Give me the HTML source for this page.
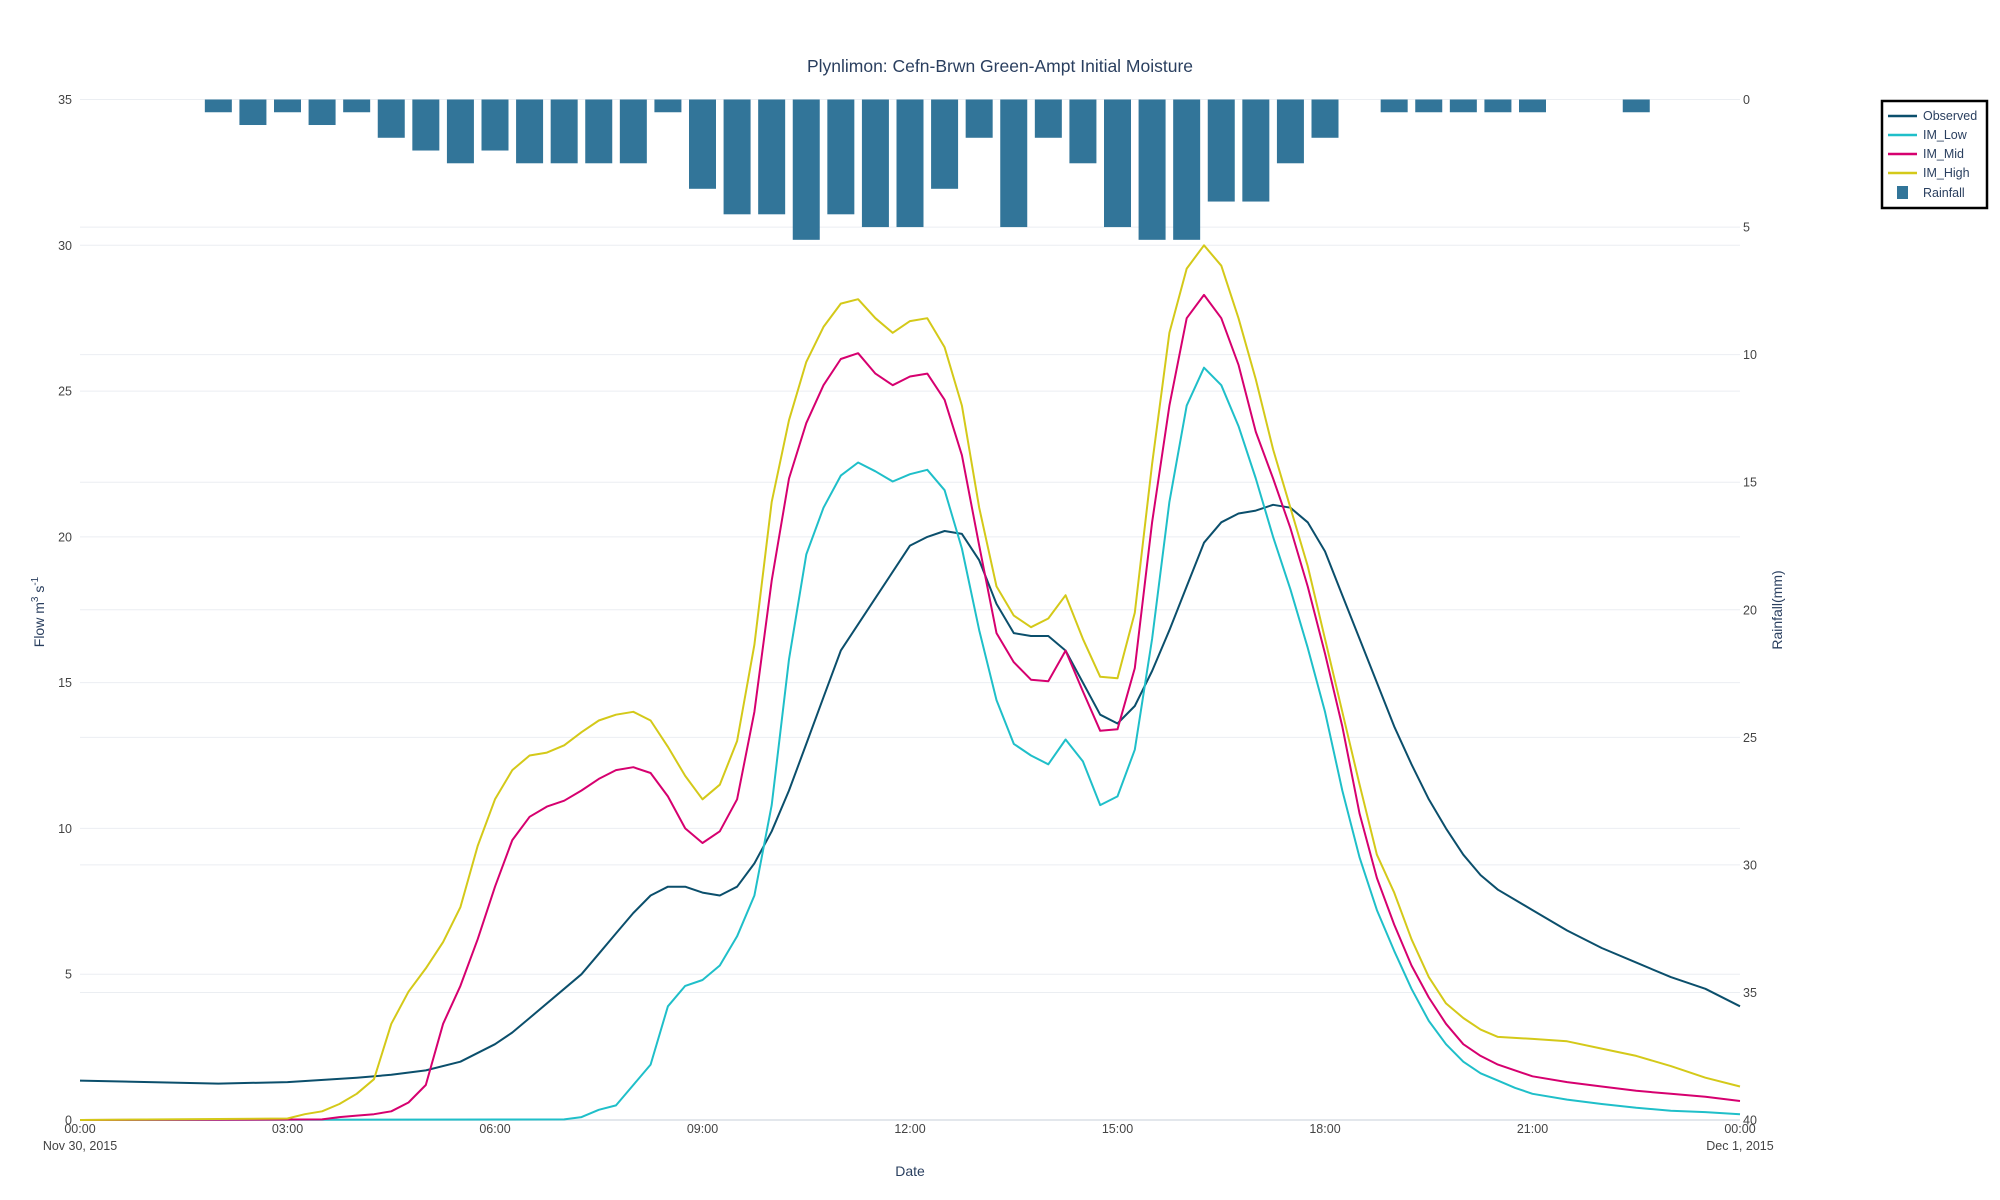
<!DOCTYPE html>
<html><head><meta charset="utf-8"><style>
body{margin:0;background:#fff;}
svg{display:block;font-family:"Liberation Sans",Arial,sans-serif;}
</style></head><body>
<svg id="s" width="2000" height="1200" xmlns="http://www.w3.org/2000/svg">
<g id="grid"></g>
<g id="bars"></g>
<g id="lines"></g>
<g id="labels" font-size="12.5" fill="#444"></g>
<text x="1000" y="72" text-anchor="middle" font-size="17.5" fill="#2a3f5f">Plynlimon: Cefn-Brwn Green-Ampt Initial Moisture</text>
<text x="910" y="1176" text-anchor="middle" font-size="14" fill="#2a3f5f">Date</text>
<text transform="translate(44,612) rotate(-90)" text-anchor="middle" font-size="14" fill="#2a3f5f">Flow m<tspan dy="-6" font-size="10">3</tspan><tspan dy="6"> s</tspan><tspan dy="-6" font-size="10">-1</tspan></text>
<text transform="translate(1782,610) rotate(-90)" text-anchor="middle" font-size="14" fill="#2a3f5f">Rainfall(mm)</text>
<g>
<rect x="1882" y="101" width="105" height="107" fill="#fff" stroke="#000" stroke-width="2.5"/>
<g font-size="12.5" fill="#2a3f5f">
<line x1="1888" y1="116" x2="1917" y2="116" stroke="#0b4f6c" stroke-width="2.5"/><text x="1923" y="120">Observed</text>
<line x1="1888" y1="135" x2="1917" y2="135" stroke="#1fbfc9" stroke-width="2.5"/><text x="1923" y="139">IM_Low</text>
<line x1="1888" y1="154" x2="1917" y2="154" stroke="#d6006f" stroke-width="2.5"/><text x="1923" y="158">IM_Mid</text>
<line x1="1888" y1="173" x2="1917" y2="173" stroke="#d4c919" stroke-width="2.5"/><text x="1923" y="177">IM_High</text>
<rect x="1897" y="186" width="11" height="13" fill="#327599"/><text x="1923" y="197">Rainfall</text>
</g></g>
</svg>
<script>
var NS="http://www.w3.org/2000/svg";
function el(p,t,a,txt){var e=document.createElementNS(NS,t);for(var k in a)e.setAttribute(k,a[k]);if(txt!==undefined)e.textContent=txt;document.getElementById(p).appendChild(e);return e;}
var X0=80,X1=1740,HW=(X1-X0)/24;
var Y0=1120,YT=99.5,UY=(Y0-YT)/35,UR=(Y0-YT)/40;
function X(h){return X0+h*HW;}
function Y(v){return Y0-v*UY;}
// grid
for(var v=0;v<=35;v+=5){el("grid","line",{x1:X0,x2:X1,y1:Y(v),y2:Y(v),stroke:"#ebeef2","stroke-width":1});
 el("labels","text",{x:72,y:Y(v)+4.5,"text-anchor":"end"},String(v));}
for(var r=0;r<=40;r+=5){var y=YT+r*UR;el("grid","line",{x1:X0,x2:X1,y1:y,y2:y,stroke:"#ebeef2","stroke-width":1});
 el("labels","text",{x:1743,y:y+4.5},String(r));}
el("grid","line",{x1:X0,x2:X1,y1:Y0,y2:Y0,stroke:"#e3e7ec","stroke-width":2});
var xt=["00:00","03:00","06:00","09:00","12:00","15:00","18:00","21:00","00:00"];
for(var i=0;i<9;i++)el("labels","text",{x:X(i*3),y:1133,"text-anchor":"middle"},xt[i]);
el("labels","text",{x:X(0),y:1150,"text-anchor":"middle"},"Nov 30, 2015");
el("labels","text",{x:X(24),y:1150,"text-anchor":"middle"},"Dec 1, 2015");
// bars
var rain={2:.5,2.5:1,3:.5,3.5:1,4:.5,4.5:1.5,5:2,5.5:2.5,6:2,6.5:2.5,7:2.5,7.5:2.5,8:2.5,8.5:.5,9:3.5,9.5:4.5,10:4.5,10.5:5.5,11:4.5,11.5:5,12:5,12.5:3.5,13:1.5,13.5:5,14:1.5,14.5:2.5,15:5,15.5:5.5,16:5.5,16.5:4,17:4,17.5:2.5,18:1.5,19:.5,19.5:.5,20:.5,20.5:.5,21:.5,22.5:.5};
for(var h in rain){var c=X(parseFloat(h));el("bars","rect",{x:c-13.5,y:YT,width:27,height:rain[h]*UR,fill:"#327599"});}
function line(d,col){var p=[];for(var i=0;i<d.length;i+=2)p.push(X(d[i]).toFixed(1)+","+Y(d[i+1]).toFixed(1));
 el("lines","polyline",{points:p.join(" "),fill:"none",stroke:col,"stroke-width":2,"stroke-linejoin":"round"});}
var obs=[0,1.35,2,1.25,3,1.3,4,1.45,4.5,1.55,5,1.7,5.5,2.0,6,2.6,6.25,3.0,6.5,3.5,7,4.5,7.25,5.0,7.5,5.7,7.75,6.4,8,7.1,8.25,7.7,8.5,8.0,8.75,8.0,9,7.8,9.25,7.7,9.5,8.0,9.75,8.8,10,9.9,10.25,11.3,10.5,12.9,10.75,14.5,11,16.1,11.25,17.0,11.5,17.9,11.75,18.8,12,19.7,12.25,20.0,12.5,20.2,12.75,20.1,13,19.2,13.25,17.7,13.5,16.7,13.75,16.6,14,16.6,14.25,16.1,14.5,15.0,14.75,13.9,15,13.6,15.25,14.2,15.5,15.4,15.75,16.8,16,18.3,16.25,19.8,16.5,20.5,16.75,20.8,17,20.9,17.25,21.1,17.5,21.0,17.75,20.5,18,19.5,18.25,18.0,18.5,16.5,18.75,15.0,19,13.5,19.25,12.2,19.5,11.0,19.75,10.0,20,9.1,20.25,8.4,20.5,7.9,21,7.2,21.5,6.5,22,5.9,22.5,5.4,23,4.9,23.5,4.5,24,3.9];
var hi=[0,0,3,0.05,3.25,0.2,3.5,0.3,3.75,0.55,4,0.9,4.25,1.4,4.5,3.3,4.75,4.4,5,5.2,5.25,6.1,5.5,7.3,5.75,9.4,6,11.0,6.25,12.0,6.5,12.5,6.75,12.6,7,12.85,7.25,13.3,7.5,13.7,7.75,13.9,8,14.0,8.25,13.7,8.5,12.8,8.75,11.8,9,11.0,9.25,11.5,9.5,13.0,9.75,16.3,10,21.2,10.25,24.0,10.5,26.0,10.75,27.2,11,28.0,11.25,28.15,11.5,27.5,11.75,27.0,12,27.4,12.25,27.5,12.5,26.5,12.75,24.5,13,21.0,13.25,18.3,13.5,17.3,13.75,16.9,14,17.2,14.25,18.0,14.5,16.5,14.75,15.2,15,15.15,15.25,17.4,15.5,22.5,15.75,27.0,16,29.2,16.25,30.0,16.5,29.3,16.75,27.5,17,25.4,17.25,23.0,17.5,21.0,17.75,19.0,18,16.5,18.25,14.0,18.5,11.5,18.75,9.1,19,7.8,19.25,6.2,19.5,4.9,19.75,4.0,20,3.5,20.25,3.1,20.5,2.85,21,2.78,21.5,2.7,22,2.45,22.5,2.2,23,1.85,23.5,1.45,24,1.15];
var mid=[0,0,3.5,0.02,3.75,0.1,4,0.15,4.25,0.2,4.5,0.3,4.75,0.6,5,1.2,5.25,3.3,5.5,4.6,5.75,6.2,6,8.0,6.25,9.6,6.5,10.4,6.75,10.75,7,10.95,7.25,11.3,7.5,11.7,7.75,12.0,8,12.1,8.25,11.9,8.5,11.1,8.75,10.0,9,9.5,9.25,9.9,9.5,11.0,9.75,14.0,10,18.5,10.25,22.0,10.5,23.9,10.75,25.2,11,26.1,11.25,26.3,11.5,25.6,11.75,25.2,12,25.5,12.25,25.6,12.5,24.7,12.75,22.8,13,19.7,13.25,16.7,13.5,15.7,13.75,15.1,14,15.05,14.25,16.1,14.5,14.7,14.75,13.35,15,13.4,15.25,15.5,15.5,20.5,15.75,24.5,16,27.5,16.25,28.3,16.5,27.5,16.75,25.9,17,23.6,17.25,22.0,17.5,20.3,17.75,18.3,18,16.0,18.25,13.5,18.5,10.5,18.75,8.3,19,6.7,19.25,5.3,19.5,4.2,19.75,3.3,20,2.6,20.25,2.2,20.5,1.9,21,1.5,21.5,1.3,22,1.15,22.5,1.0,23,0.9,23.5,0.8,24,0.65];
var low=[0,0,7,0.02,7.25,0.1,7.5,0.35,7.75,0.5,8,1.2,8.25,1.9,8.5,3.9,8.75,4.6,9,4.8,9.25,5.3,9.5,6.3,9.75,7.7,10,10.8,10.25,15.8,10.5,19.4,10.75,21.0,11,22.1,11.25,22.55,11.5,22.25,11.75,21.9,12,22.15,12.25,22.3,12.5,21.6,12.75,19.6,13,16.8,13.25,14.4,13.5,12.9,13.75,12.5,14,12.2,14.25,13.05,14.5,12.3,14.75,10.8,15,11.1,15.25,12.7,15.5,16.5,15.75,21.2,16,24.5,16.25,25.8,16.5,25.2,16.75,23.8,17,22.0,17.25,20.0,17.5,18.2,17.75,16.2,18,14.0,18.25,11.3,18.5,9.0,18.75,7.2,19,5.8,19.25,4.5,19.5,3.4,19.75,2.6,20,2.0,20.25,1.6,20.5,1.35,20.75,1.1,21,0.9,21.5,0.7,22,0.55,22.5,0.42,23,0.32,23.5,0.27,24,0.2];
line(obs,"#0b4f6c");line(low,"#1fbfc9");line(mid,"#d6006f");line(hi,"#d4c919");
</script>
</body></html>
